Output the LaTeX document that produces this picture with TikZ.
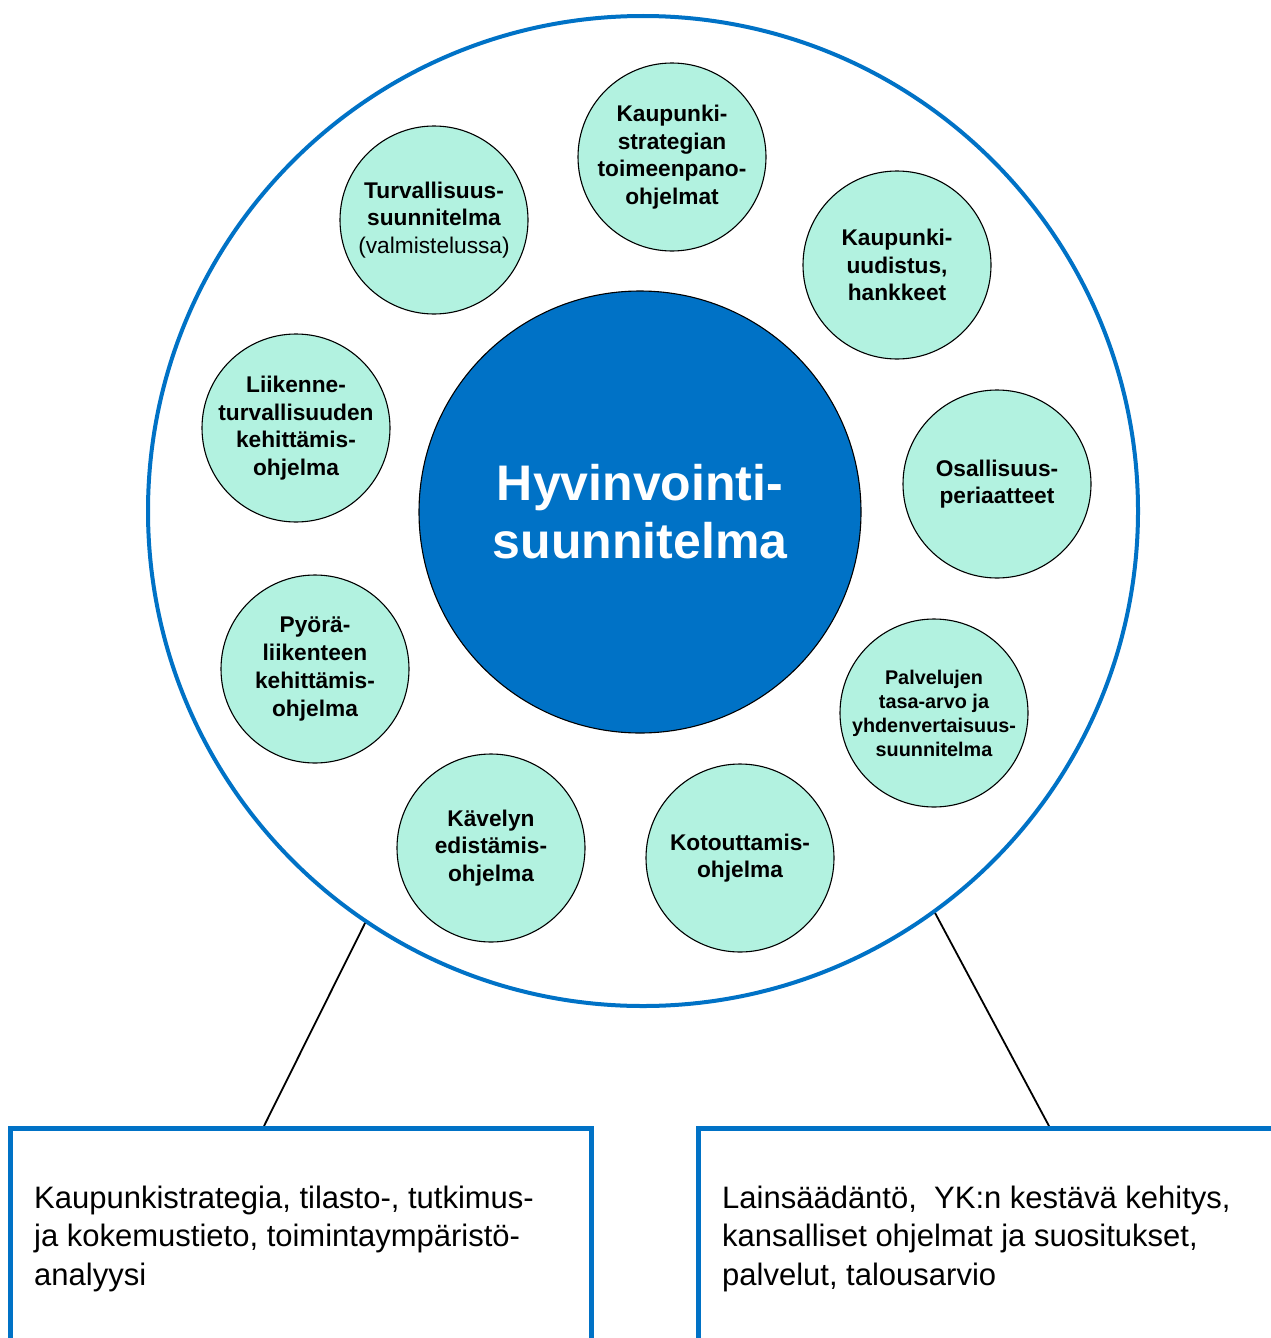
\documentclass[tikz,border=0pt]{standalone}
\usepackage{fontspec}
\setmainfont{Liberation Sans}
\definecolor{hblue}{RGB}{0,114,198}
\definecolor{mint}{RGB}{178,242,224}
\begin{document}
\begin{tikzpicture}[x=1pt,y=-1pt,
  small/.style={circle, draw=black, line width=1.1pt, fill=mint, minimum size=188pt, inner sep=0pt, align=center, font=\bfseries\fontsize{22.7}{27.7}\selectfont},
  smaller/.style={small, font=\bfseries\fontsize{19.8}{24}\selectfont},
  bigc/.style={circle, draw=black, line width=1.1pt, fill=hblue, minimum size=442pt, inner sep=0pt, align=center, text=white, font=\bfseries\fontsize{50}{58}\selectfont},
  outerc/.style={circle, draw=hblue, line width=4pt, minimum size=990pt, inner sep=0pt},
  infobox/.style={draw=hblue, line width=4.5pt, anchor=north west, inner sep=0pt},
  boxtext/.style={anchor=base west, align=left, inner sep=0pt, font=\fontsize{31}{38.5}\selectfont},
  conn/.style={line width=1.8pt, black}]
\useasboundingbox (0,0) rectangle (1271,1338);
\clip (0,0) rectangle (1271,1338);
\fill[white] (0,0) rectangle (1271,1338);

\node[outerc] (outer) at (643,511) {};
\node[bigc] (center) at (640,512) {Hyvinvointi-\\suunnitelma};

\node[small] (strat) at (672,157) {Kaupunki-\\strategian\\toimeenpano-\\ohjelmat};
\node[small] (turv) at (434,220) {Turvallisuus-\\suunnitelma\\{\mdseries (valmistelussa)}};
\node[small] (uud) at (897,265) {Kaupunki-\\uudistus,\\hankkeet};
\node[small] (liik) at (296,428) {Liikenne-\\turvallisuuden\\kehittämis-\\ohjelma};
\node[small] (osal) at (997,484) {Osallisuus-\\periaatteet};
\node[small] (pyora) at (315,669) {Pyörä-\\liikenteen\\kehittämis-\\ohjelma};
\node[smaller] (palv) at (934,713) {Palvelujen\\tasa-arvo ja\\yhdenvertaisuus-\\suunnitelma};
\node[small] (kav) at (491,848) {Kävelyn\\edistämis-\\ohjelma};
\node[small] (koto) at (740,858) {Kotouttamis-\\ohjelma};

\coordinate (lt) at (264,1126);
\coordinate (rt) at (1049,1126);
\draw[conn] (outer.-124.1) -- (lt);
\draw[conn] (outer.-54) -- (rt);

\node[infobox, minimum width=581pt, minimum height=300pt] (lbox) at (8,1126) {};
\node[infobox, minimum width=650pt, minimum height=300pt] (rbox) at (696,1126) {};

\node[boxtext] (ltext) at (34,1285) {Kaupunkistrategia, tilasto-, tutkimus-\\ja kokemustieto, toimintaympäristö-\\analyysi};
\node[boxtext] (rtext) at (722,1285) {Lainsäädäntö,\ \ YK:n kestävä kehitys,\\kansalliset ohjelmat ja suositukset,\\palvelut, talousarvio};
\end{tikzpicture}
\end{document}
